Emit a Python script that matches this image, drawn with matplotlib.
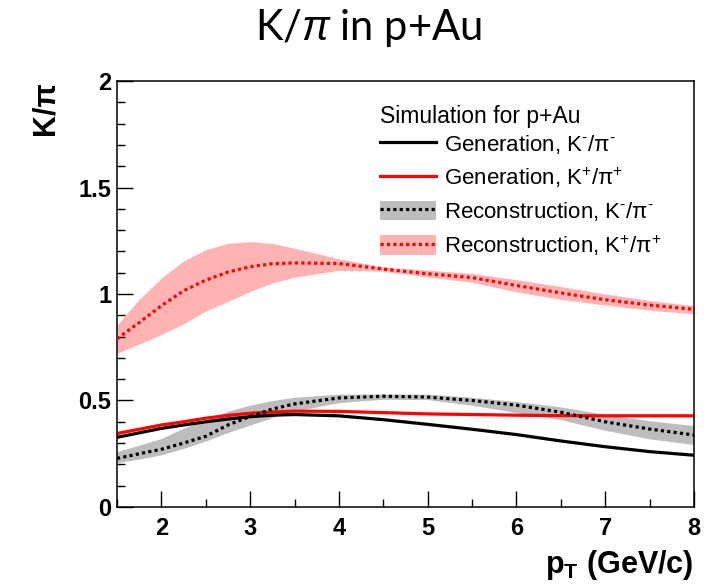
import matplotlib

matplotlib.use("Agg")
import matplotlib.pyplot as plt
from matplotlib.lines import Line2D
from matplotlib.patches import Patch
from matplotlib.ticker import MultipleLocator

plt.rcParams["font.family"] = ["Liberation Sans", "DejaVu Sans"]
plt.rcParams["mathtext.fontset"] = "custom"
plt.rcParams["mathtext.rm"] = "Liberation Sans"
plt.rcParams["mathtext.it"] = "Liberation Sans:italic"
plt.rcParams["mathtext.bf"] = "Liberation Sans:bold"

# -----------------------------------------------------------------------------
# Data
# -----------------------------------------------------------------------------
pt = [1.5, 1.75, 2.0, 2.25, 2.5, 2.75, 3.0, 3.25, 3.5, 4.0, 4.5, 5.0, 5.5, 6.0, 6.5, 7.0, 7.5, 8.0]

gen_kminus = [0.327, 0.348, 0.369, 0.385, 0.400, 0.413, 0.424, 0.431, 0.434, 0.428, 0.410,
              0.388, 0.365, 0.340, 0.310, 0.283, 0.260, 0.243]
gen_kplus = [0.345, 0.365, 0.385, 0.400, 0.417, 0.430, 0.440, 0.446, 0.450, 0.449, 0.443,
             0.437, 0.434, 0.431, 0.429, 0.428, 0.428, 0.428]

reco_kminus = [0.228, 0.250, 0.271, 0.300, 0.332, 0.385, 0.425, 0.460, 0.484, 0.512, 0.520,
               0.516, 0.500, 0.478, 0.445, 0.400, 0.366, 0.338]
reco_kminus_lo = [0.208, 0.225, 0.245, 0.275, 0.310, 0.350, 0.385, 0.420, 0.450, 0.490, 0.506,
                  0.504, 0.478, 0.443, 0.410, 0.360, 0.320, 0.293]
reco_kminus_hi = [0.260, 0.290, 0.322, 0.370, 0.410, 0.450, 0.478, 0.500, 0.515, 0.530, 0.530,
                  0.530, 0.515, 0.495, 0.470, 0.435, 0.405, 0.382]

reco_kplus = [0.790, 0.866, 0.945, 1.015, 1.065, 1.103, 1.128, 1.142, 1.146, 1.143, 1.117,
              1.095, 1.077, 1.040, 1.005, 0.973, 0.948, 0.928]
reco_kplus_lo = [0.722, 0.765, 0.810, 0.860, 0.920, 0.965, 1.012, 1.052, 1.079, 1.111, 1.107,
                 1.080, 1.055, 1.010, 0.975, 0.948, 0.924, 0.907]
reco_kplus_hi = [0.854, 0.975, 1.075, 1.155, 1.208, 1.238, 1.246, 1.237, 1.215, 1.165, 1.127,
                 1.112, 1.097, 1.067, 1.035, 1.000, 0.970, 0.945]

LABELS = [
    "Generation, K$^{\\text{-}}$/π$^{\\text{-}}$",
    "Generation, K$^{+}$/π$^{+}$",
    "Reconstruction, K$^{\\text{-}}$/π$^{\\text{-}}$",
    "Reconstruction, K$^{+}$/π$^{+}$",
]

RED_BAND = "#ffb3b3"
GRAY_BAND = "#bdbdbd"
LW = 2.3
DOT = (0, (1, 1))

# -----------------------------------------------------------------------------
# Plot
# -----------------------------------------------------------------------------
fig = plt.figure(figsize=(7.15, 5.87), dpi=100)
ax = fig.add_axes([0.1636, 0.1363, 0.807, 0.7257])

ax.fill_between(pt, reco_kplus_lo, reco_kplus_hi, color=RED_BAND, lw=0, zorder=1)
ax.fill_between(pt, reco_kminus_lo, reco_kminus_hi, color=GRAY_BAND, lw=0, zorder=1)

ax.plot(pt, gen_kminus, color="black", lw=LW, zorder=2)
ax.plot(pt, gen_kplus, color="red", lw=LW, zorder=2)
ax.plot(pt, reco_kminus, color="black", lw=LW, ls=DOT, dash_capstyle="butt", zorder=3)
ax.plot(pt, reco_kplus, color="red", lw=LW, ls=DOT, dash_capstyle="butt", zorder=3)

ax.set_xlim(1.5, 8)
ax.set_ylim(0, 2)
ax.xaxis.set_major_locator(MultipleLocator(1))
ax.xaxis.set_minor_locator(MultipleLocator(0.5))
ax.yaxis.set_major_locator(MultipleLocator(0.5))
ax.yaxis.set_minor_locator(MultipleLocator(0.1))
ax.tick_params(which="both", direction="in", top=False, right=False, width=1)
ax.tick_params(which="major", length=11.5)
ax.tick_params(which="minor", length=5.8)
ax.tick_params(axis="x", which="major", pad=7, labelsize=17)
ax.tick_params(axis="y", which="major", pad=4, labelsize=17)
ax.set_yticks([0, 0.5, 1, 1.5, 2])
ax.set_yticklabels(["0", "0.5", "1", "1.5", "2"])
for lab in ax.get_xticklabels() + ax.get_yticklabels():
    lab.set_fontweight("bold")
for sp in ax.spines.values():
    sp.set_linewidth(1.1)

# legend
handles = [
    Line2D([], [], color="black", lw=LW),
    Line2D([], [], color="red", lw=LW),
    (Patch(facecolor=GRAY_BAND, lw=0), Line2D([], [], color="black", lw=LW, ls=DOT, dash_capstyle="butt")),
    (Patch(facecolor=RED_BAND, lw=0), Line2D([], [], color="red", lw=LW, ls=DOT, dash_capstyle="butt")),
]
leg = ax.legend(handles, LABELS, title="Simulation for p+Au", loc="upper left",
                bbox_to_anchor=(376 / 715, 1 - 101 / 587), bbox_transform=fig.transFigure,
                frameon=False, fontsize=16, title_fontsize=16.5, alignment="left",
                handlelength=2.48, handleheight=1.0, handletextpad=0.4,
                labelspacing=0.45, borderpad=0.2, borderaxespad=0)
leg._legend_box.sep = 3

# titles / axis labels
fig.text(368 / 715, 1 - 28 / 587, "K/$\\pi$ in p+Au", fontsize=30, family=["Lato", "DejaVu Sans"],
         ha="center", va="center")
fig.text(45 / 715, 1 - 108 / 587, "K/π", fontsize=22, fontweight="bold", rotation=90,
         ha="center", va="center")
fig.text(694 / 715, 1 - 565 / 587, "$\\mathbf{p_{T}}$ (GeV/c)", fontsize=22, fontweight="bold",
         ha="right", va="center")

fig.savefig("out.png", dpi=100)
